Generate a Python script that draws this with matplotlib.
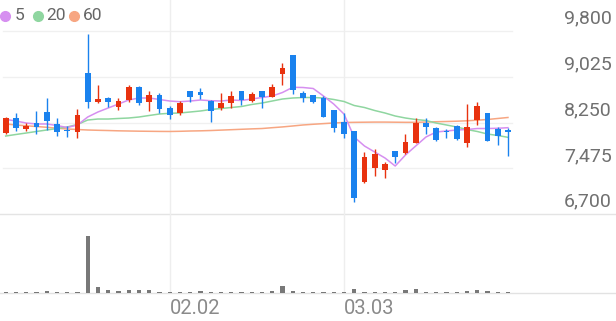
import matplotlib
matplotlib.use("Agg")
import matplotlib.pyplot as plt
import matplotlib.transforms as mtransforms
from matplotlib.lines import Line2D
import numpy as np

# trading days shown in the chart (MM.DD)
dates = ["01.09", "01.12", "01.13", "01.14", "01.15", "01.16", "01.19", "01.20", "01.21", "01.22",
         "01.23", "01.26", "01.27", "01.28", "01.29", "01.30", "02.02", "02.03", "02.04", "02.05",
         "02.06", "02.09", "02.10", "02.11", "02.12", "02.13", "02.19", "02.20", "02.23", "02.24",
         "02.25", "02.26", "02.27", "03.03", "03.04", "03.05", "03.06", "03.09", "03.10", "03.11",
         "03.12", "03.13", "03.16", "03.17", "03.18", "03.19", "03.20", "03.23", "03.24", "03.25"]

opens = [8067, 8321, 8135, 8236, 8423, 8225, 8123, 8094, 9094, 8592,
         8670, 8507, 8631, 8857, 8592, 8716, 8490, 8406, 8784, 8767,
         8619, 8490, 8575, 8789, 8619, 8789, 8687, 9072, 9393, 8745,
         8716, 8670, 8462, 8258, 8106, 7237, 7474, 7445, 7767, 7728,
         7908, 8247, 8152, 8111, 8191, 7908, 8292, 8406, 8140, 8123]
highs = [8340, 8406, 8236, 8440, 8660, 8321, 8191, 8474, 9749, 8885,
         8687, 8660, 8880, 8868, 8784, 8745, 8529, 8614, 8784, 8829,
         8631, 8745, 8784, 8789, 8772, 8789, 8897, 9253, 9393, 8789,
         8716, 8700, 8462, 8406, 8106, 7755, 7796, 7586, 7767, 8055,
         8321, 8321, 8179, 8140, 8210, 8563, 8602, 8406, 8179, 8152]
lows = [8050, 8111, 8106, 8055, 8123, 8021, 8009, 7982, 8490, 8585,
        8507, 8462, 8590, 8546, 8445, 8406, 8304, 8377, 8602, 8643,
        8264, 8462, 8501, 8546, 8602, 8490, 8677, 8885, 8733, 8592,
        8580, 8340, 8082, 7990, 6908, 7230, 7344, 7305, 7569, 7711,
        7900, 8055, 7942, 7982, 7960, 7840, 8208, 7930, 7869, 7683]
closes = [8326, 8162, 8191, 8168, 8280, 8094, 8106, 8377, 8592, 8643,
          8602, 8619, 8846, 8585, 8716, 8479, 8377, 8585, 8687, 8711,
          8445, 8585, 8704, 8631, 8733, 8677, 8846, 9168, 8801, 8660,
          8592, 8348, 8152, 8055, 6976, 7671, 7716, 7542, 7671, 7925,
          8247, 8179, 7954, 8089, 7966, 8169, 8535, 7937, 8021, 8094]

# volume in thousand shares
volume = [100, 100, 100, 120, 200, 100, 100, 150, 5700, 630,
          270, 250, 330, 270, 270, 150, 120, 120, 120, 250,
          120, 120, 120, 120, 120, 120, 200, 670, 230, 120,
          100, 100, 100, 120, 400, 100, 100, 100, 130, 270,
          370, 100, 100, 100, 100, 250, 270, 180, 100, 80]

# moving averages as drawn on the chart
ma5 = [8304, 8275, 8241, 8225, 8225, 8199, 8165, 8208, 8343, 8428,
       8496, 8563, 8631, 8665, 8665, 8640, 8614, 8602, 8614, 8631,
       8619, 8614, 8631, 8623, 8648, 8673, 8699, 8758, 8846, 8843,
       8826, 8699, 8563, 8394, 8004, 7852, 7750, 7649, 7513, 7699,
       7852, 8004, 8089, 8106, 8123, 8131, 8148, 8148, 8152, 8162]
ma20 = [8021, 8047, 8072, 8098, 8123, 8148, 8174, 8216, 8292, 8309,
        8309, 8318, 8326, 8343, 8369, 8394, 8406, 8411, 8428, 8445,
        8470, 8487, 8504, 8521, 8555, 8580, 8614, 8648, 8665, 8673,
        8673, 8665, 8640, 8606, 8538, 8504, 8453, 8411, 8360, 8326,
        8301, 8284, 8241, 8208, 8174, 8131, 8098, 8055, 8030, 7999]
ma60 = [8225, 8208, 8194, 8182, 8169, 8153, 8140, 8131, 8123, 8118,
        8114, 8109, 8106, 8103, 8101, 8099, 8098, 8101, 8106, 8109,
        8114, 8121, 8128, 8135, 8142, 8148, 8162, 8175, 8191, 8208,
        8220, 8231, 8242, 8250, 8253, 8255, 8257, 8257, 8255, 8253,
        8253, 8258, 8263, 8267, 8272, 8279, 8289, 8301, 8318, 8335]

price_ticks = [6700, 7475, 8250, 9025, 9800]
date_ticks = ["02.02", "03.03"]
ma_labels = ["5", "20", "60"]

UP = "#e8320f"
DOWN = "#1a82ee"
MA_COLORS = ["#d68ff0", "#8fd6a0", "#f7a682"]
GRID = "#f0f0f0"

plt.rcParams['font.family'] = ['Roboto', 'DejaVu Sans']

W, H = 616, 321
fig = plt.figure(figsize=(W / 100, H / 100), dpi=100)
ax = fig.add_axes([0, 107 / H, 1, 214 / H])
axv = fig.add_axes([0, 28 / H, 1, 79 / H], sharex=ax)
for a in (ax, axv):
    a.axis('off')

x = np.arange(len(dates))
o, hi, lo, c = map(np.array, (opens, highs, lows, closes))
cols = np.where(c >= o, UP, DOWN)

# grid
for p in price_ticks[1:]:
    ax.axhline(p, xmin=3 / W, xmax=512 / W, color=GRID, lw=1, zorder=0)
ax.axhline(price_ticks[0], color="#e4e4e4", lw=1, zorder=0, clip_on=False)
for d in date_ticks:
    i = dates.index(d)
    ax.axvline(i, color="#eeeeee", lw=1, zorder=0)
    axv.axvline(i, color="#eeeeee", lw=1, zorder=0)

# moving averages
for ma, col in zip((ma60, ma20, ma5), MA_COLORS[::-1]):
    ax.plot(x, ma, color=col, lw=1.1, zorder=2)

# candles
ax.vlines(x, lo, hi, colors=cols, lw=1.0, zorder=3)
body = np.maximum(np.abs(c - o), 22)
ax.bar(x, body, bottom=np.minimum(o, c), width=0.56, color=cols, linewidth=0, zorder=4)

ax.set_xlim(-5.7 / 10.25, (W - 5.7) / 10.25)
ax.set_ylim(6700, 9800 + 31 * 16.94)

# price labels on the right
tr = mtransforms.blended_transform_factory(ax.transAxes, ax.transData)
for p in price_ticks:
    ax.annotate(f"{p:,}", xy=(612 / W, p), xycoords=tr, xytext=(0, 8.8),
                textcoords='offset points', ha='right', va='center',
                fontsize=14, color='#707070')

# volume
axv.axhline(0, color="#e2e2e2", lw=1, zorder=0, clip_on=False)
axv.bar(x, volume, width=0.42, color="#787878", linewidth=0, zorder=2)
axv.set_ylim(0, 7900)
for d in date_ticks:
    axv.annotate(d, xy=(dates.index(d), 0), xytext=(0, -11.5), textcoords='offset points',
                 ha='left', va='center', fontsize=14.5, color='#8a8a8a')

# legend
for (dx, tx), lab, col in zip(((5, 14.5), (37.7, 46), (74, 82.5)), ma_labels, MA_COLORS):
    fig.add_artist(Line2D([dx / W], [1 - 16 / H], marker='o', markersize=7, color=col,
                          linestyle='none', transform=fig.transFigure))
    fig.text(tx / W, 1 - 16 / H, lab, va='center', ha='left', fontsize=12.5, color='#666666')

fig.savefig("out.png", dpi=100)
